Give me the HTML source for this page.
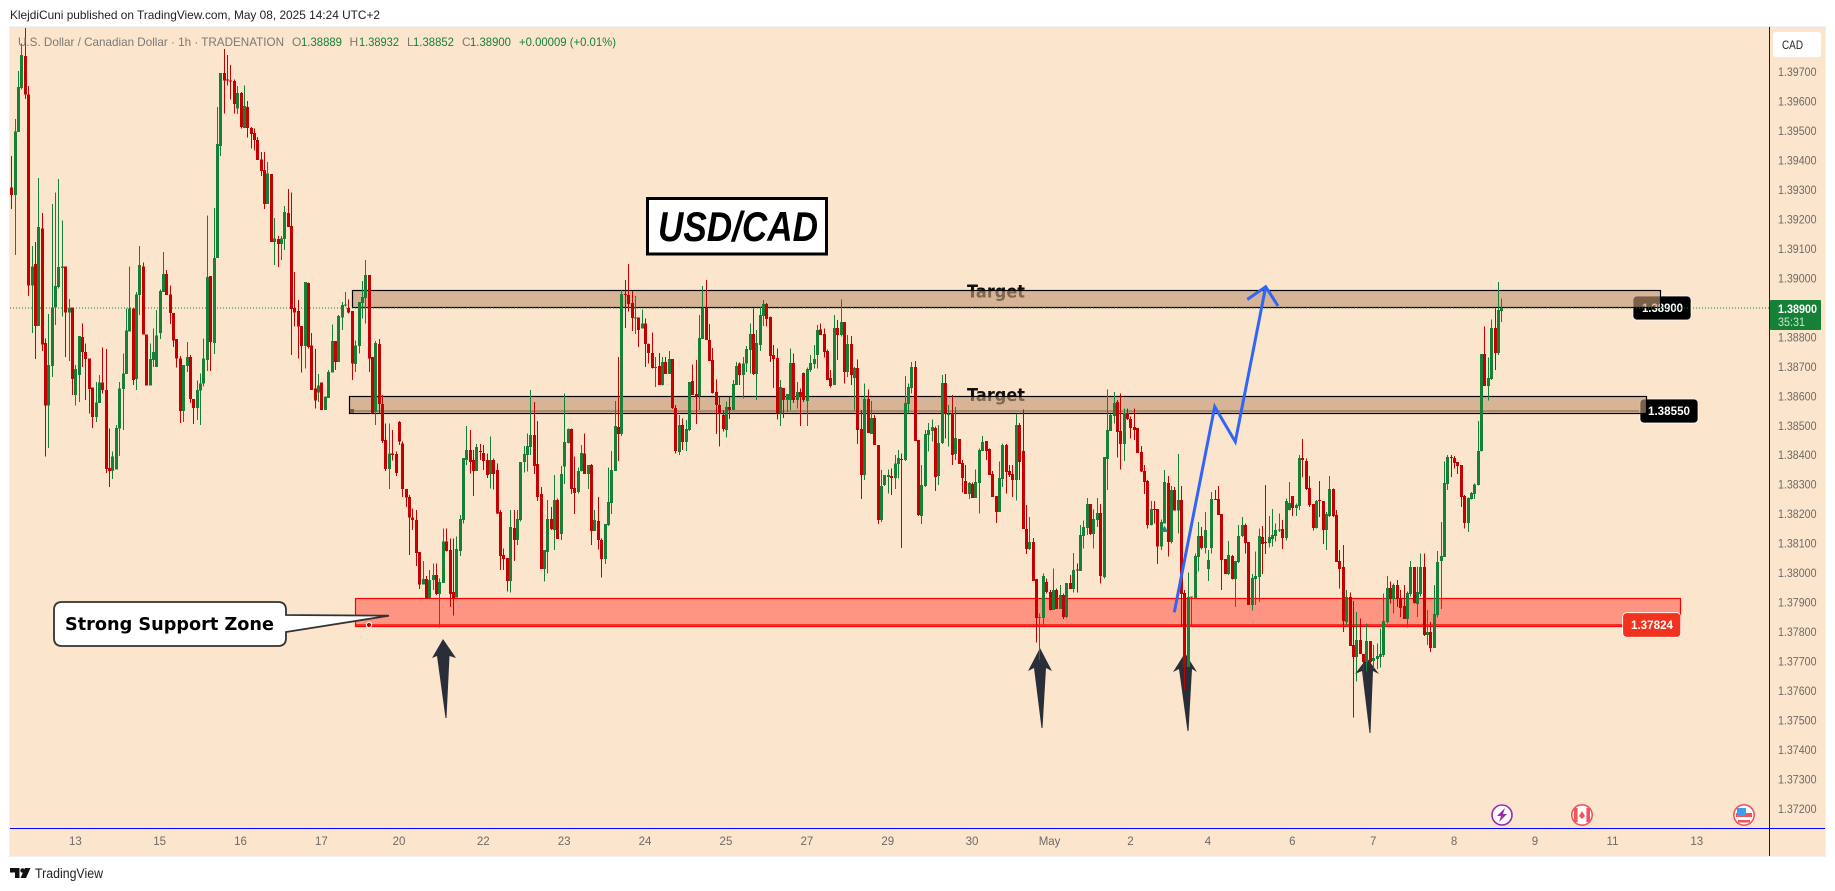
<!DOCTYPE html>
<html lang="en">
<head>
<meta charset="utf-8">
<title>USD/CAD 1h chart</title>
<style>
html,body{margin:0;padding:0;background:#fff;width:1835px;height:891px;overflow:hidden}
svg{display:block;font-family:"Liberation Sans",sans-serif}
</style>
</head>
<body>
<svg id="chart" xmlns="http://www.w3.org/2000/svg" width="1835" height="891" viewBox="0 0 1835 891">
  <text x="10" y="19" font-size="12" fill="#222" textLength="370" lengthAdjust="spacingAndGlyphs">KlejdiCuni published on TradingView.com, May 08, 2025 14:24 UTC+2</text>
  <rect x="9.5" y="26.5" width="1816" height="830" fill="#fce5cd" stroke="#eef0f3"/>

  <g id="under">
    <rect x="1633" y="296" width="58" height="24" rx="4" fill="#000" stroke="#fff" stroke-width=".7"/>
    <text x="1642" y="312" font-size="12" font-weight="bold" fill="#fff" textLength="41" lengthAdjust="spacingAndGlyphs">1.38900</text>
    <rect x="1640" y="399" width="58" height="24" rx="4" fill="#000" stroke="#fff" stroke-width=".7"/>
    <text x="1648" y="415" font-size="12" font-weight="bold" fill="#fff" textLength="42" lengthAdjust="spacingAndGlyphs">1.38550</text>
    <text x="967" y="297.5" font-size="18" font-weight="bold" fill="#111" style="font-family:'DejaVu Sans',sans-serif" textLength="58" lengthAdjust="spacingAndGlyphs">Target</text>
    <text x="967" y="401" font-size="18" font-weight="bold" fill="#111" style="font-family:'DejaVu Sans',sans-serif" textLength="58" lengthAdjust="spacingAndGlyphs">Target</text>

    <polygon fill="#2a2e39" points="443,639 456,658 449.5,656 446.5,718 445.5,718 437,656 432,658"/>
    <polygon fill="#2a2e39" points="1040,648 1052,671 1046,668 1042.5,728 1041.5,728 1034,668 1028,671"/>
    <polygon fill="#2a2e39" points="1185,653 1197,672 1192,669 1188.5,731 1187.5,731 1179,669 1173,672"/>
    <polygon fill="#2a2e39" points="1367,658 1379,674 1373,671 1370.5,733 1369.5,733 1362,671 1355,674"/>

    <rect x="352.5" y="290.5" width="1308" height="17" fill="rgba(194,152,116,.63)" stroke="#000" stroke-width="1.2"/>
    <rect x="349.5" y="396.5" width="1297" height="17" fill="rgba(194,152,116,.63)" stroke="#000" stroke-width="1.2"/>
    <rect x="353" y="410" width="1286" height="2" fill="#a88c70"/>
    <rect x="350" y="409" width="4" height="4" fill="#6e5a48"/>

    <rect x="1622.7" y="612.7" width="58" height="24.6" rx="4" fill="#f0321e" stroke="#fff" stroke-width=".8"/>
    <rect x="355.5" y="598.5" width="1325" height="28" fill="rgba(255,100,85,.62)" stroke="#ff0000" stroke-width="1.2"/>
    <rect x="356" y="624" width="1267" height="2" fill="#f0342c"/>
    <rect x="1622.7" y="612.7" width="58" height="24.6" rx="4" fill="#f0321e" stroke="#fff" stroke-width=".8"/>
    <text x="1631" y="629" font-size="12" font-weight="bold" fill="#fff" textLength="42" lengthAdjust="spacingAndGlyphs">1.37824</text>
    <circle cx="369" cy="625" r="2.6" fill="#c00000" stroke="#fff" stroke-width="1"/>

    <line x1="10" y1="308" x2="1769" y2="308" stroke="#178037" stroke-width="1" stroke-dasharray="1 2"/>
  </g>

  <g id="candles"></g>

  <polygon points="1164.5,525.5 1168,532 1161,532" fill="#1c8c80"/>
  <polyline points="1174.3,612.3 1214.7,406.7 1235.3,441.7 1265.7,286.7" fill="none" stroke="#2f66f5" stroke-width="3"/>
  <polyline points="1247.3,299.5 1265.7,286.7 1278,306" fill="none" stroke="#2f66f5" stroke-width="3"/>

  <path d="M62,602 H278 Q286,602 286,610 V615 L389,615.7 L286,632 V638 Q286,646 278,646 H62 Q54,646 54,638 V610 Q54,602 62,602 Z" fill="#fff" stroke="#333" stroke-width="1.8"/>
  <text x="65" y="630" font-size="18" font-weight="bold" fill="#000" style="font-family:'DejaVu Sans',sans-serif" textLength="209" lengthAdjust="spacingAndGlyphs">Strong Support Zone</text>

  <rect x="647.5" y="198.5" width="179" height="55.5" fill="#fff" stroke="#000" stroke-width="3"/>
  <text x="658" y="241" font-size="42" font-weight="bold" font-style="italic" fill="#000" textLength="160" lengthAdjust="spacingAndGlyphs">USD/CAD</text>

  <g font-size="12">
    <text x="18" y="46" fill="#7a7875" textLength="266" lengthAdjust="spacingAndGlyphs">U.S. Dollar / Canadian Dollar · 1h · TRADENATION</text>
    <text x="292" y="46" fill="#7a7875">O</text>
    <text x="301" y="46" fill="#178037" textLength="41" lengthAdjust="spacingAndGlyphs">1.38889</text>
    <text x="349.5" y="46" fill="#7a7875">H</text>
    <text x="359" y="46" fill="#178037" textLength="40" lengthAdjust="spacingAndGlyphs">1.38932</text>
    <text x="407" y="46" fill="#7a7875">L</text>
    <text x="413" y="46" fill="#178037" textLength="41" lengthAdjust="spacingAndGlyphs">1.38852</text>
    <text x="462" y="46" fill="#7a7875">C</text>
    <text x="470" y="46" fill="#178037" textLength="41" lengthAdjust="spacingAndGlyphs">1.38900</text>
    <text x="519" y="46" fill="#178037" textLength="97" lengthAdjust="spacingAndGlyphs">+0.00009 (+0.01%)</text>
  </g>

  <line x1="1769.5" y1="27" x2="1769.5" y2="856" stroke="#0000ff" stroke-width="1"/>
  <line x1="10" y1="828.5" x2="1825" y2="828.5" stroke="#0000ff" stroke-width="1"/>
  <g id="priceTicks"></g>
  <g id="timeTicks"></g>

  <rect x="1773" y="32" width="48" height="25" rx="3" fill="#fff"/>
  <text x="1782" y="49" font-size="12" fill="#222" textLength="21" lengthAdjust="spacingAndGlyphs">CAD</text>

  <rect x="1770" y="300" width="51" height="30" rx="1" fill="#178037"/>
  <text x="1778" y="313" font-size="12" font-weight="bold" fill="#fff" textLength="39" lengthAdjust="spacingAndGlyphs">1.38900</text>
  <text x="1778" y="326" font-size="11.5" fill="#c8e6d0" textLength="27" lengthAdjust="spacingAndGlyphs">35:31</text>

  <g>
    <circle cx="1502" cy="815" r="10" fill="#fff" stroke="#9c27b0" stroke-width="1.6"/>
    <polygon points="1505,808 1497,816 1501,816 1499,822 1507,814 1503,814" fill="#9c27b0"/>
  </g>
  <g>
    <circle cx="1582" cy="815" r="10.2" fill="#fff" stroke="#f2545b" stroke-width="1.6"/>
    <rect x="1574" y="808" width="3.6" height="14" fill="#f2545b"/>
    <rect x="1586.4" y="808" width="3.6" height="14" fill="#f2545b"/>
    <polygon points="1582,811 1585,816 1582,819 1579,816" fill="#f2545b"/>
  </g>
  <g>
    <circle cx="1744" cy="815" r="10.2" fill="#fff" stroke="#f2545b" stroke-width="1.6"/>
    <rect x="1736" y="813" width="16" height="4" fill="#f2545b"/>
    <rect x="1738" y="820" width="12" height="2.5" fill="#f2545b"/>
    <rect x="1737" y="808" width="9" height="8" fill="#3f9df0"/>
  </g>

  <g>
    <polygon points="10,868 19.5,868 19.5,878 15,878 15,872.5 10,872.5" fill="#111"/>
    <circle cx="22.5" cy="870.5" r="2.2" fill="#111"/>
    <polygon points="25,868 30.5,868 26,878 20.5,878" fill="#111"/>
    <text x="35" y="878" font-size="13.5" fill="#222" textLength="68" lengthAdjust="spacingAndGlyphs">TradingView</text>
  </g>
</svg>

<script>
/* Prices are stored in pipettes above 1.37000 (e.g. 1900 = 1.38900). */
const priceBase = 1.37;
const opens = [
2309,2283,2497,2646,2754,2624,1975,2048,1839,2169,1780,1568,1703,1902,1970,2035,2041,1885,1901,1605,
1673,1801,1750,1729,1630,1530,1578,1647,1622,1357,1347,1351,1490,1625,1676,1819,1898,1658,1943,2041,
1810,1636,1723,1700,1814,1953,2014,1946,1882,1794,1729,1550,1702,1733,1590,1561,1619,1643,1723,2008,
1780,2069,2449,2696,2675,2672,2669,2577,2628,2510,2581,2510,2493,2469,2404,2367,2252,2354,2123,2133,
2116,2133,2221,2177,1899,1889,1838,1770,1984,1773,1627,1613,1647,1553,1595,1680,1787,1716,1868,1908,
1899,1889,1710,1770,1916,1933,2011,1733,1546,1777,1573,1451,1354,1406,1404,1513,1440,1285,1258,1188,
1180,1072,961,980,915,977,994,929,967,1108,1078,936,918,1075,1180,1384,1418,1384,1346,1414,
1407,1384,1336,1384,1350,1207,1061,1051,974,1153,1112,1180,1377,1401,1428,1469,1370,1268,1014,1072,
1184,1146,1248,1133,1361,1441,1489,1289,1275,1346,1406,1336,1367,1143,1177,1112,1048,1163,1238,1346,
1496,1472,1947,1943,1916,1865,1868,1830,1847,1777,1747,1698,1703,1638,1716,1675,1726,1560,1411,1502,
1445,1485,1652,1608,1601,1794,1899,1791,1723,1614,1570,1536,1485,1563,1553,1638,1711,1672,1711,1757,
1811,1675,1774,1872,1913,1869,1740,1730,1542,1628,1587,1587,1713,1587,1614,1679,1584,1689,1709,1740,
1827,1811,1753,1662,1638,1831,1808,1852,1682,1777,1662,1696,1489,1333,1590,1472,1526,1434,1180,1299,
1326,1329,1323,1370,1387,1384,1574,1628,1699,1451,1194,1295,1469,1482,1492,1329,1441,1645,1536,1543,
1404,1455,1373,1312,1268,1302,1255,1306,1415,1448,1421,1336,1261,1207,1319,1434,1347,1336,1316,1502,
1414,1149,1082,1105,980,849,848,970,936,875,943,878,926,851,966,946,1013,1007,1126,1153,
1234,1133,1180,1204,987,1387,1482,1533,1580,1482,1438,1543,1523,1495,1492,1411,1346,1312,1163,1217,
1217,1090,1169,1306,1105,1282,1212,1248,932,681,917,915,1055,1126,1085,1014,1085,1251,1251,1200,
1048,997,1058,980,1038,1126,1163,1105,892,980,987,1122,1105,1102,1116,1126,1144,1149,1119,1214,
1261,1221,1227,1390,1380,1289,1234,1153,1248,1244,1146,1194,1285,1197,1041,1021,834,919,756,715,
773,725,698,770,702,709,715,722,834,949,912,960,915,888,844,929,1021,895,929,1021,
790,800,746,858,1041,1055,1302,1394,1390,1377,1367,1261,1170,1251,1268,1299,1414,1743,1635,1658,
1831,1747,1889];
const highs = [
2415,2540,2703,2797,2849,2652,2109,2123,2340,2221,1796,1879,2252,2291,2337,2197,2041,1930,1901,1706,
1804,1847,1779,1729,1630,1649,1672,1766,1760,1491,1412,1502,1649,1745,1898,2041,1898,1954,2109,2054,
1810,1779,1830,1892,1962,2089,2028,1976,1882,1794,1737,1706,1784,1740,1590,1653,1677,1796,2214,2008,
2238,2581,2696,2778,2757,2723,2675,2652,2633,2655,2601,2514,2508,2480,2429,2429,2394,2354,2204,2143,
2143,2245,2303,2292,2021,1926,1838,1987,1986,1814,1760,1675,1647,1600,1689,1844,1787,1875,1920,1954,
1928,1889,1790,1919,1991,2062,2011,1733,1787,1794,1604,1508,1508,1485,1412,1516,1446,1285,1265,1220,
1214,1072,1041,990,1011,1033,1033,982,1152,1152,1118,1118,1124,1197,1391,1499,1485,1418,1438,1438,
1435,1406,1463,1389,1372,1214,1084,1051,1214,1214,1214,1377,1431,1474,1621,1580,1516,1293,1078,1248,
1225,1333,1254,1363,1610,1491,1491,1395,1359,1435,1474,1367,1370,1214,1259,1117,1167,1359,1414,1584,
1734,1960,1994,2049,1957,1940,1868,1895,1864,1779,1817,1734,1746,1734,1734,1753,1726,1570,1536,1525,
1519,1648,1708,1723,1876,1974,1994,1845,1763,1657,1599,1553,1582,1599,1655,1716,1714,1734,1770,1847,
1898,1825,1904,1926,1917,1870,1774,1762,1655,1628,1607,1762,1745,1649,1627,1681,1698,1740,1774,1842,
1847,1830,1759,1689,1875,1858,1929,1852,1808,1804,1700,1725,1553,1644,1623,1584,1536,1434,1350,1333,
1352,1355,1401,1417,1406,1668,1644,1717,1719,1451,1367,1485,1510,1522,1497,1502,1672,1675,1570,1604,
1564,1455,1384,1367,1310,1307,1352,1423,1465,1448,1423,1347,1261,1378,1440,1438,1367,1367,1540,1510,
1555,1231,1190,1119,980,863,999,982,943,1016,948,960,931,966,993,1069,1033,1163,1178,1255,
1234,1216,1255,1234,1394,1623,1540,1614,1587,1610,1559,1559,1531,1559,1492,1431,1367,1316,1244,1244,
1217,1182,1350,1329,1295,1293,1404,1295,943,1003,920,1067,1173,1157,1207,1078,1276,1282,1295,1200,
1048,1109,1061,1041,1163,1190,1169,1105,997,1073,1152,1160,1299,1194,1218,1169,1203,1180,1254,1310,
1261,1237,1400,1455,1389,1329,1234,1248,1313,1244,1208,1329,1287,1214,1078,1095,943,934,906,869,
846,725,830,770,756,762,813,931,990,971,965,977,943,960,937,1041,1021,1022,1067,1067,
875,835,960,1075,1174,1378,1400,1400,1397,1377,1367,1265,1257,1276,1304,1516,1743,1836,1732,1861,
1898,1987,1932];
const lows = [
2236,2080,2497,2641,2609,1941,1815,1727,1839,1754,1395,1425,1666,1842,1966,1870,1734,1720,1605,1568,
1581,1700,1587,1542,1493,1513,1578,1610,1340,1293,1320,1378,1397,1485,1676,1819,1638,1621,1875,1809,
1636,1636,1700,1700,1794,1953,1943,1845,1767,1697,1510,1513,1683,1578,1506,1519,1502,1634,1686,1686,
1743,2069,2415,2560,2655,2607,2559,2557,2508,2510,2477,2441,2433,2401,2347,2235,2252,2123,2045,2038,
2062,2096,2175,1740,1836,1728,1680,1694,1762,1622,1558,1581,1553,1553,1595,1680,1689,1716,1824,1905,
1881,1655,1683,1745,1864,1847,1683,1542,1502,1542,1442,1347,1286,1383,1330,1435,1259,1225,1061,1146,
1024,946,961,915,915,943,926,815,967,1073,886,856,918,1058,1169,1367,1338,1262,1346,1384,
1350,1322,1288,1284,1201,1011,1011,937,934,1041,1095,1175,1342,1344,1401,1336,1245,1014,971,999,
1146,1078,1116,1112,1302,1440,1268,1201,1271,1344,1336,1285,1095,1143,1081,985,1031,1160,1201,1346,
1380,1465,1831,1887,1822,1811,1768,1830,1700,1712,1695,1632,1638,1636,1675,1675,1557,1406,1401,1418,
1415,1483,1604,1506,1553,1794,1791,1720,1610,1472,1429,1480,1460,1523,1553,1638,1638,1593,1683,1678,
1672,1587,1754,1838,1836,1717,1628,1521,1499,1526,1546,1553,1578,1559,1499,1581,1499,1683,1695,1695,
1808,1732,1655,1630,1638,1723,1802,1644,1666,1638,1553,1438,1251,1316,1475,1472,1434,1167,1173,1295,
1271,1265,1285,1321,1085,1380,1542,1610,1448,1194,1166,1293,1412,1446,1278,1299,1438,1457,1429,1367,
1384,1370,1274,1268,1252,1255,1255,1203,1415,1384,1333,1258,1170,1207,1293,1271,1327,1259,1246,1316,
1149,1065,1078,973,764,705,824,931,873,875,878,878,844,848,946,935,935,1007,1084,1129,
1129,1084,1157,965,982,1282,1482,1508,1393,1352,1380,1519,1457,1451,1407,1343,1268,1152,1161,1169,
1031,1078,1169,1056,1101,1212,1135,818,603,681,818,915,1005,1081,1067,973,1067,1248,1197,943,
997,993,979,886,1035,1123,1067,892,873,892,903,997,1065,1087,1090,1107,1140,1082,1110,1212,
1194,1194,1214,1327,1282,1225,1144,1152,1191,1099,1078,1191,1191,1038,948,801,820,753,510,632,
725,643,666,694,677,675,680,716,830,897,863,886,852,844,815,920,897,852,920,786,
756,733,746,850,878,1055,1282,1327,1355,1336,1225,1152,1139,1250,1251,1298,1412,1635,1585,1655,
1689,1740,1852];
const closes = [
2283,2499,2649,2757,2624,1975,2041,1839,2174,1775,1568,1706,1902,1974,2038,2041,1885,1899,1659,1692,
1804,1750,1726,1625,1530,1579,1647,1622,1354,1347,1396,1492,1627,1677,1823,1898,1656,1946,2045,1809,
1636,1726,1750,1806,1957,2014,1943,1882,1790,1729,1550,1706,1733,1590,1561,1621,1643,1728,2004,1784,
2069,2455,2696,2672,2672,2670,2591,2628,2513,2584,2510,2489,2469,2401,2364,2252,2356,2123,2136,2116,
2136,2225,2175,1896,1885,1836,1770,1987,1767,1622,1585,1637,1553,1600,1682,1787,1716,1872,1909,1912,
1885,1712,1773,1919,1936,2011,1729,1542,1780,1573,1448,1354,1406,1400,1340,1446,1286,1257,1188,1180,
1069,961,980,915,977,994,929,970,1108,1075,929,915,1082,1184,1391,1418,1377,1346,1428,1411,
1380,1333,1384,1336,1203,1058,1048,974,1156,1112,1184,1377,1404,1431,1469,1363,1259,1014,1078,1184,
1150,1248,1116,1336,1445,1489,1285,1272,1346,1407,1336,1367,1143,1180,1112,1048,1167,1241,1350,1499,
1472,1947,1943,1913,1865,1868,1825,1847,1777,1747,1696,1700,1638,1716,1675,1726,1560,1414,1502,1445,
1489,1648,1604,1599,1798,1899,1791,1720,1611,1570,1540,1489,1563,1553,1642,1703,1672,1711,1760,1811,
1675,1780,1875,1913,1862,1736,1726,1542,1631,1587,1607,1713,1587,1614,1598,1587,1692,1713,1726,1825,
1808,1750,1655,1635,1831,1808,1852,1682,1777,1672,1696,1485,1333,1590,1475,1526,1434,1180,1295,1333,
1333,1323,1372,1390,1384,1577,1631,1699,1448,1197,1299,1472,1485,1495,1326,1441,1645,1540,1540,1401,
1458,1370,1323,1268,1306,1255,1309,1417,1445,1414,1333,1258,1207,1323,1434,1343,1333,1316,1502,1377,
1149,1082,1105,973,848,851,990,936,875,943,878,926,851,966,946,1010,1010,1129,1156,1234,
1133,1183,1204,990,1394,1485,1536,1577,1479,1438,1543,1523,1492,1485,1407,1344,1309,1163,1217,1214,
1090,1173,1309,1105,1282,1212,1248,929,681,919,920,1058,1126,1085,1146,1044,1251,1249,1197,1044,
997,1061,980,1041,1126,1163,1102,892,983,990,1126,1099,1102,1122,1129,1146,1148,1119,1244,1238,
1221,1231,1390,1384,1285,1231,1153,1244,1246,1146,1200,1285,1194,1038,1014,837,919,753,715,773,
725,698,770,698,712,719,725,837,949,912,960,912,882,844,932,1021,899,936,1021,790,
800,746,861,1038,1058,1306,1394,1391,1373,1363,1258,1170,1255,1272,1301,1414,1743,1635,1662,1831,
1747,1892,1900];
const priceTickLabels = ["1.39700","1.39600","1.39500","1.39400","1.39300","1.39200","1.39100","1.39000","1.38800","1.38700","1.38600","1.38500","1.38400","1.38300","1.38200","1.38100","1.38000","1.37900","1.37800","1.37700","1.37600","1.37500","1.37400","1.37300","1.37200"];
const timeTickLabels = ["13","15","16","17","20","22","23","24","25","27","29","30","May","2","4","6","7","8","9","11","13"];
const timeTickBars = [19,44,68,92,115,140,164,188,212,236,260,285,308,332,355,380,404,428,452,475,500];

const SVG_NS = "http://www.w3.org/2000/svg";
function yOf(price){ return 72 + (1.397 - price) * 29480; }
function xOf(bar){ return 11.3 + bar * 3.371; }
function priceAt(pipettes){ return priceBase + pipettes / 100000; }
function makeRect(parent, x, y, w, h, fill){
  const r = document.createElementNS(SVG_NS, "rect");
  r.setAttribute("x", x); r.setAttribute("y", y);
  r.setAttribute("width", w); r.setAttribute("height", h);
  r.setAttribute("fill", fill);
  r.setAttribute("shape-rendering", "crispEdges");
  parent.appendChild(r);
  return r;
}

const candleLayer = document.getElementById("candles");
closes.forEach(function(close, i){
  const open = opens[i];
  const col = close >= open ? "#178037" : "#c40000";
  const g = document.createElementNS(SVG_NS, "g");
  
  
  const px = Math.round(xOf(i));
  const yHigh = yOf(priceAt(highs[i]));
  const yLow = yOf(priceAt(lows[i]));
  const yTop = yOf(priceAt(Math.max(open, close)));
  const yBot = yOf(priceAt(Math.min(open, close)));
  makeRect(g, px, yHigh, 1, Math.max(1, yLow - yHigh), col);
  makeRect(g, px - 1, yTop, 3, Math.max(1, yBot - yTop), col);
  candleLayer.appendChild(g);
});

const priceLayer = document.getElementById("priceTicks");
priceTickLabels.forEach(function(label){
  const t = document.createElementNS(SVG_NS, "text");
  
  
  t.setAttribute("x", 1778);
  t.setAttribute("y", yOf(parseFloat(label)) + 4);
  t.setAttribute("font-size", "11.5");
  t.setAttribute("fill", "#6b6a68");
  t.setAttribute("textLength", "38.5");
  t.setAttribute("lengthAdjust", "spacingAndGlyphs");
  t.textContent = label;
  priceLayer.appendChild(t);
});

const timeLayer = document.getElementById("timeTicks");
timeTickLabels.forEach(function(label, i){
  const t = document.createElementNS(SVG_NS, "text");
  
  
  t.setAttribute("x", xOf(timeTickBars[i]));
  t.setAttribute("y", 845);
  t.setAttribute("font-size", "11.5");
  t.setAttribute("text-anchor", "middle");
  t.setAttribute("fill", "#6b6a68");
  t.textContent = label;
  timeLayer.appendChild(t);
});
</script>
</body>
</html>
